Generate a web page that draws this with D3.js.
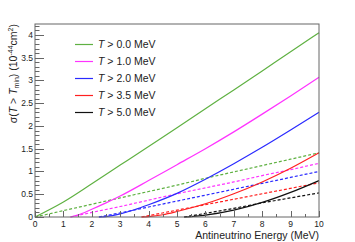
<!DOCTYPE html>
<meta charset="utf-8">
<style>
  body { margin: 0; background: white; }
  text { font-family: "Liberation Sans", Arial, sans-serif; }
</style>
<body>
<svg width="355" height="242"></svg>
<script src="https://cdn.jsdelivr.net/npm/d3@7"></script>
<script>
// cross sections, 10^-44 cm^2
var labels = ["0.0", "1.0", "2.0", "3.5", "5.0"];
var colors = ["#5fb142", "#ff33ff", "#2a2aff", "#ff2020", "#111111"];

var eGreen = [0, 1, 2, 3, 4, 5, 6, 7, 8, 9, 10];
var sGreen = [0, 0.33, 0.73, 1.14, 1.55, 1.96, 2.38, 2.79, 3.21, 3.63, 4.05];
var dGreen = [0, 0.14, 0.28, 0.42, 0.56, 0.70, 0.85, 0.99, 1.13, 1.27, 1.41];

var eMag = [1.25, 1.5, 2, 2.5, 3, 4, 5, 6, 7, 8, 9, 10];
var sMag = [0, 0.04, 0.17, 0.31, 0.46, 0.80, 1.15, 1.50, 1.87, 2.26, 2.66, 3.07];
var eMagD = [1.25, 2, 3, 4, 5, 6, 7, 8, 9, 10];
var dMag = [0, 0.10, 0.23, 0.37, 0.51, 0.64, 0.77, 0.91, 1.04, 1.18];

var eBlue = [2.25, 2.5, 3, 3.5, 4, 5, 6, 7, 8, 9, 10];
var sBlue = [0, 0.01, 0.07, 0.16, 0.27, 0.52, 0.83, 1.17, 1.53, 1.91, 2.30];
var eBlueD = [2.25, 3, 4, 5, 6, 7, 8, 9, 10];
var dBlue = [0, 0.09, 0.22, 0.35, 0.48, 0.61, 0.74, 0.87, 1.00];

var eRed = [3.75, 4, 4.5, 5, 6, 7, 8, 9, 10];
var sRed = [0, 0.01, 0.05, 0.12, 0.29, 0.51, 0.77, 1.07, 1.41];
var eRedD = [3.75, 4, 5, 6, 7, 8, 9, 10];
var dRed = [0, 0.03, 0.15, 0.27, 0.39, 0.51, 0.63, 0.75];

var eBlack = [5.25, 5.5, 6, 7, 8, 9, 10];
var sBlack = [0, 0.01, 0.04, 0.15, 0.32, 0.54, 0.80];
var eBlackD = [5.25, 6, 7, 8, 9, 10];
var dBlack = [0, 0.08, 0.19, 0.31, 0.42, 0.53];

var xTicks = [0, 1, 2, 3, 4, 5, 6, 7, 8, 9, 10];
var yTicks = [0, 0.5, 1, 1.5, 2, 2.5, 3, 3.5, 4];

var solid = [[eGreen, sGreen], [eMag, sMag], [eBlue, sBlue], [eRed, sRed], [eBlack, sBlack]];
var dashed = [[eGreen, dGreen], [eMagD, dMag], [eBlueD, dBlue], [eRedD, dRed], [eBlackD, dBlack]];

var svg = d3.select("svg");
var L = 35, R = 319, T = 24, B = 217;

var x = d3.scaleLinear().domain([0, 10]).range([L, R]);
var y = d3.scaleLinear().domain([0, 4.24]).range([B, T]);

function pts(s) { return s[0].map(function(e, i) { return [e, s[1][i]]; }); }
var line = d3.line()
    .x(function(d) { return x(d[0]); })
    .y(function(d) { return y(d[1]); })
    .curve(d3.curveMonotoneX);

var plot = svg.append("g");
dashed.forEach(function(s, i) {
  plot.append("path").attr("d", line(pts(s)))
    .attr("fill", "none").attr("stroke", colors[i])
    .attr("stroke-width", 1.2).attr("stroke-dasharray", "3,2");
});
solid.forEach(function(s, i) {
  plot.append("path").attr("d", line(pts(s)))
    .attr("fill", "none").attr("stroke", colors[i])
    .attr("stroke-width", 1.2);
});

// frame
svg.append("rect").attr("x", L).attr("y", T).attr("width", R - L).attr("height", B - T)
  .attr("fill", "none").attr("stroke", "#666").attr("stroke-width", 1);

// y ticks inside the frame
var yMinor = d3.range(0, 4.2501, 0.1);
svg.append("g").selectAll("line").data(yMinor).enter().append("line")
  .attr("x1", L).attr("x2", function(d, i) { return i % 5 == 0 ? L + 9 : L + 4.5; })
  .attr("y1", function(d) { return Math.round(y(d)) + 0.5; })
  .attr("y2", function(d) { return Math.round(y(d)) + 0.5; })
  .attr("stroke", "#666");
svg.append("g").selectAll("text").data(yTicks).enter().append("text")
  .attr("x", L - 2).attr("y", function(d) { return y(d) + 3; })
  .attr("text-anchor", "end").attr("font-size", 8.5).attr("fill", "#222")
  .text(function(d) { return d; });

// x ticks
var xMinor = d3.range(0, 10.001, 0.5);
svg.append("g").selectAll("line").data(xMinor).enter().append("line")
  .attr("x1", function(d) { return Math.round(x(d)) + 0.5; })
  .attr("x2", function(d) { return Math.round(x(d)) + 0.5; })
  .attr("y1", B).attr("y2", function(d, i) { return i % 2 == 0 ? B - 6 : B - 3; })
  .attr("stroke", "#666");
svg.append("g").selectAll("text").data(xTicks).enter().append("text")
  .attr("x", function(d) { return x(d); }).attr("y", B + 10)
  .attr("text-anchor", "middle").attr("font-size", 8.5).attr("fill", "#222")
  .text(function(d) { return d; });

// axis titles
svg.append("text").attr("x", R).attr("y", 239).attr("text-anchor", "end")
  .attr("font-size", 10.5).attr("fill", "#222").text("Antineutrino Energy (MeV)");

var yt = svg.append("text").attr("transform", "translate(16.5," + T + ") rotate(-90)")
  .attr("text-anchor", "end").attr("font-size", 10.5).attr("fill", "#222");
yt.append("tspan").text("σ(");
yt.append("tspan").attr("font-style", "italic").text("T");
yt.append("tspan").text(" > ");
yt.append("tspan").attr("font-style", "italic").text("T");
yt.append("tspan").attr("font-size", 7).attr("dy", 2.5).text("min");
yt.append("tspan").attr("dy", -2.5).text(") (10");
yt.append("tspan").attr("font-size", 7).attr("dy", -4).text("-44");
yt.append("tspan").attr("dy", 4).text("cm");
yt.append("tspan").attr("font-size", 7).attr("dy", -4).text("2");
yt.append("tspan").attr("dy", 4).text(")");

// legend
var leg = svg.append("g").selectAll("g").data(labels).enter().append("g")
  .attr("transform", function(d, i) { return "translate(0," + (44.5 + i * 17) + ")"; });
leg.append("line").attr("x1", 75).attr("x2", 93).attr("y1", 0).attr("y2", 0)
  .attr("stroke", function(d, i) { return colors[i]; }).attr("stroke-width", 1.2);
var lt = leg.append("text").attr("x", 98).attr("y", 3.8).attr("font-size", 10.5).attr("fill", "#222");
lt.append("tspan").attr("font-style", "italic").text("T");
lt.append("tspan").text(function(d) { return " > " + d + " MeV"; });
</script>
</body>
